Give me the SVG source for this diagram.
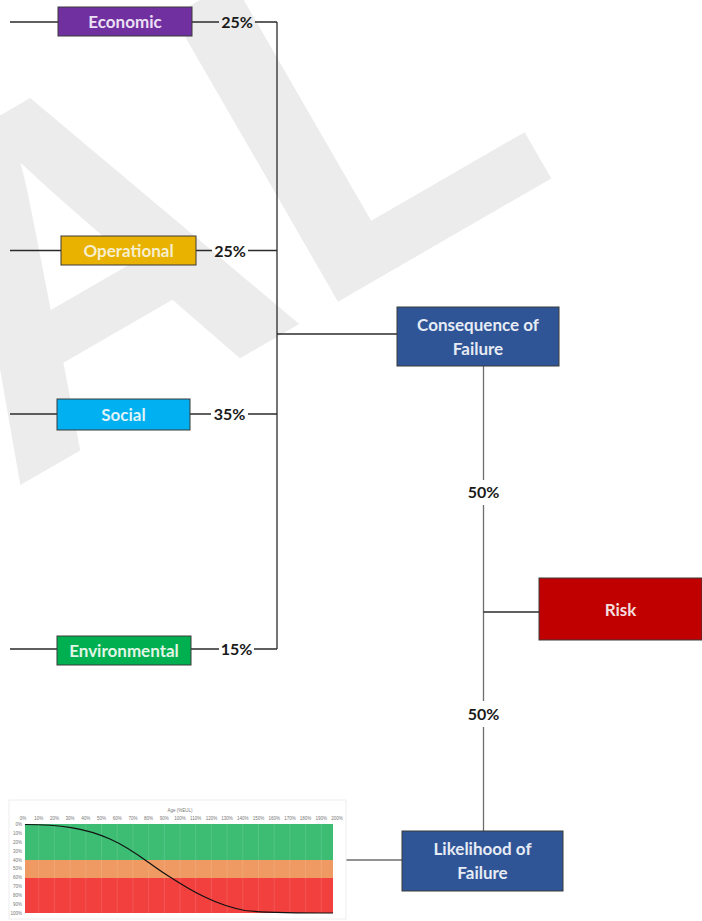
<svg xmlns="http://www.w3.org/2000/svg" width="702" height="921" viewBox="0 0 702 921">
<style>
.wm{font-family:"Liberation Sans",Arial,sans-serif;font-weight:bold;font-size:480px;fill:#ececec}
.box{stroke:#3a3a3a;stroke-width:1}
.lbl{font-family:Lato,"Open Sans",sans-serif;font-weight:bold;font-size:17px;text-anchor:middle}
.pct{font-family:Lato,"Open Sans",sans-serif;font-weight:bold;font-size:16px;fill:#1a1a1a;text-anchor:middle}
.ln{stroke:#2b2b2b;stroke-width:1.3;fill:none}
.lng{stroke:#6e6e6e;stroke-width:1.3;fill:none}
.tk{font-family:"Liberation Sans",Arial,sans-serif;font-size:4.5px;fill:#777;text-anchor:middle}
.tky{font-family:"Liberation Sans",Arial,sans-serif;font-size:4.5px;fill:#777;text-anchor:end}
</style>
<rect width="702" height="921" fill="#ffffff"/>
<text class="wm" transform="translate(10,491) rotate(-30)">AL</text>

<g id="connectors">
  <path class="ln" d="M10,22H58 M192,22H219 M255,22H277 M277,22V649"/>
  <path class="ln" d="M10,250.5H61 M196,250.5H212 M248,250.5H277"/>
  <path class="ln" d="M10,414H57 M190,414H211 M248,414H277"/>
  <path class="ln" d="M10,649H57 M191,649H219 M254,649H277"/>
  <path class="ln" d="M277,334H397"/>
  <path class="lng" d="M483.5,366V480 M483.5,505V701 M483.5,727V831"/>
  <path class="ln" d="M483.5,612H539"/>
  <path class="lng" d="M345,860H402"/>
</g>

<g id="economic">
  <rect class="box" x="58" y="7" width="134" height="29" fill="#7030a0"/>
  <text class="lbl" x="125" y="27.5" fill="#ece0f5">Economic</text>
</g>
<text class="pct" x="237" y="28">25%</text>

<g id="operational">
  <rect class="box" x="61" y="236" width="135" height="29" fill="#eab200"/>
  <text class="lbl" x="128.5" y="256.5" fill="#f6efcf">Operational</text>
</g>
<text class="pct" x="230" y="256.5">25%</text>

<g id="social">
  <rect class="box" x="57" y="399" width="133" height="31" fill="#00b0f0"/>
  <text class="lbl" x="123.5" y="420.5" fill="#dff2f8">Social</text>
</g>
<text class="pct" x="229.5" y="420">35%</text>

<g id="environmental">
  <rect class="box" x="57" y="636" width="134" height="29" fill="#00b050"/>
  <text class="lbl" x="124" y="656.5" fill="#e2f5e6">Environmental</text>
</g>
<text class="pct" x="236.5" y="655">15%</text>

<g id="consequence">
  <rect class="box" x="397" y="307" width="162" height="59" fill="#2f5597"/>
  <text class="lbl" x="478" y="331" fill="#e6ebf5">Consequence of</text>
  <text class="lbl" x="478" y="355" fill="#e6ebf5">Failure</text>
</g>

<text class="pct" x="483.5" y="498">50%</text>
<text class="pct" x="483.5" y="720">50%</text>

<g id="risk">
  <rect class="box" x="539" y="578" width="163" height="62" fill="#c00000"/>
  <text class="lbl" x="620.5" y="615.5" fill="#f3dede">Risk</text>
</g>

<g id="likelihood">
  <rect class="box" x="402" y="831" width="161" height="60" fill="#2f5597"/>
  <text class="lbl" x="482.5" y="855" fill="#e6ebf5">Likelihood of</text>
  <text class="lbl" x="482.5" y="879" fill="#e6ebf5">Failure</text>
</g>

<g id="chart">
  <rect x="9" y="800" width="337" height="119" fill="#ffffff" stroke="#eeeeee" stroke-width="1"/>
  <rect x="25" y="824" width="308" height="36" fill="#3dbd74"/>
  <rect x="25" y="860" width="308" height="18" fill="#ef9a62"/>
  <rect x="25" y="878" width="308" height="35" fill="#f2403f"/>
  <g stroke="#ffffff" stroke-opacity="0.2" stroke-width="0.6">
    <path d="M38.7,824V913 M54.4,824V913 M70.1,824V913 M85.8,824V913 M101.5,824V913 M117.2,824V913 M132.9,824V913 M148.6,824V913 M164.3,824V913 M180,824V913 M195.7,824V913 M211.4,824V913 M227.1,824V913 M242.8,824V913 M258.5,824V913 M274.2,824V913 M289.9,824V913 M305.6,824V913 M321.3,824V913"/>
  </g>
  <path d="M25,824.5 C60,824.5 85,828 110,839 C135,850 150,865 170,877 C190,890 215,905 245,910.5 C265,913 290,913 333,913" fill="none" stroke="#111111" stroke-width="1.2"/>
  <text class="tk" x="180" y="812">Age (%EUL)</text>
  <g class="tk">
    <text x="23" y="820">0%</text><text x="38.7" y="820">10%</text><text x="54.4" y="820">20%</text><text x="70.1" y="820">30%</text><text x="85.8" y="820">40%</text><text x="101.5" y="820">50%</text><text x="117.2" y="820">60%</text><text x="132.9" y="820">70%</text><text x="148.6" y="820">80%</text><text x="164.3" y="820">90%</text><text x="180" y="820">100%</text><text x="195.7" y="820">110%</text><text x="211.4" y="820">120%</text><text x="227.1" y="820">130%</text><text x="242.8" y="820">140%</text><text x="258.5" y="820">150%</text><text x="274.2" y="820">160%</text><text x="289.9" y="820">170%</text><text x="305.6" y="820">180%</text><text x="321.3" y="820">190%</text><text x="337" y="820">200%</text>
  </g>
  <g class="tky">
    <text x="22" y="826">0%</text><text x="22" y="835">10%</text><text x="22" y="844">20%</text><text x="22" y="853">30%</text><text x="22" y="862">40%</text><text x="22" y="870">50%</text><text x="22" y="879">60%</text><text x="22" y="888">70%</text><text x="22" y="897">80%</text><text x="22" y="906">90%</text><text x="22" y="915">100%</text>
  </g>
</g>
</svg>
